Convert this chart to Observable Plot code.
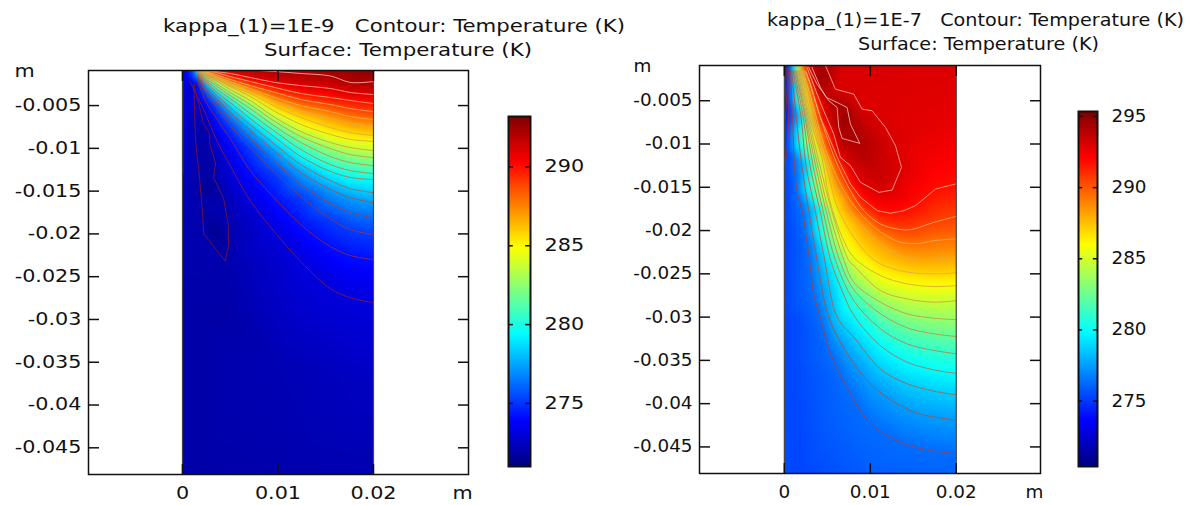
<!DOCTYPE html>
<html><head><meta charset="utf-8">
<script src="https://cdn.jsdelivr.net/npm/d3@7"></script>
<script src="https://cdn.jsdelivr.net/npm/@observablehq/plot@0.6"></script>
<style>
html,body{margin:0;padding:0;background:#fff;width:1192px;height:505px;overflow:hidden;font-family:"DejaVu Sans",sans-serif}
.abs{position:absolute}
.abs svg{overflow:visible;background:transparent}
.t{position:absolute;white-space:pre;color:#111;font-size:17px;line-height:20px;transform-origin:left center}
</style></head><body>
<div id="root"></div>
<script>
// ---------- tick values (metres, kelvin) ----------
const yTicks = [-0.005,-0.01,-0.015,-0.02,-0.025,-0.03,-0.035,-0.04,-0.045];
const xTicks = [0,0.01,0.02];
const leftBarTicks = [275,280,285,290];
const rightBarTicks = [275,280,285,290,295];
const leftRange = [271.0,293.2];
const rightRange = [270.4,295.35];
const jetStops = [0,0.13,0.38,0.626,0.87,1];
const jetColors = ["#00007f","#0000ff","#00ffff","#ffff00","#ff0000","#7f0000"];

// ---------- left panel: isotherms (x and depth in mm) ----------
const leftXmm = [20,17.6,15.5,12.4,9.7,7.1,5.0,3.5,2.4,1.6];
const leftLevels = [292.1,291.1,290.0,289.0,287.9,286.9,285.8,284.7,283.7,282.6,281.6,280.5,279.5,278.4,277.3,276.3,275.2,274.2,273.1];
const leftDepths = [
 [2.19,2.30,1.54,1.25,1.02,0.84,0.70,0.60,0.50,0.40],
 [3.71,3.47,3.01,2.66,2.30,1.72,1.25,1.02,0.90,0.78],
 [4.76,4.41,4.06,3.59,2.89,2.19,1.60,1.13,0.90,0.67],
 [5.70,5.35,4.88,4.29,3.47,2.66,1.95,1.37,1.02,0.72],
 [6.63,6.28,5.70,5.00,4.06,3.01,2.19,1.60,1.02,0.78],
 [7.45,7.10,6.52,5.58,4.53,3.36,2.42,1.72,1.13,0.78],
 [8.51,8.16,7.57,6.40,5.11,3.59,2.66,1.84,1.25,0.84],
 [9.20,8.95,8.38,7.20,5.70,3.94,2.77,1.84,1.37,0.90],
 [10.26,9.91,9.32,8.04,6.40,4.41,3.12,2.07,1.49,0.90],
 [11.08,10.73,10.03,8.62,6.87,4.88,3.47,2.42,1.60,1.02],
 [12.02,11.66,10.96,9.32,7.45,5.35,3.83,2.66,1.84,1.02],
 [12.95,12.60,11.90,10.14,8.04,5.93,4.18,3.01,1.95,1.13],
 [13.65,13.40,12.70,10.96,8.74,6.52,4.64,3.36,2.19,1.25],
 [15.18,14.71,13.77,11.90,9.56,7.22,5.23,3.71,2.54,1.37],
 [16.35,15.76,14.82,12.83,10.38,7.92,5.81,4.06,2.77,1.49],
 [18.10,17.52,16.46,14.24,11.55,8.86,6.52,4.53,3.12,1.60],
 [20.09,19.50,18.22,15.64,12.83,9.91,7.34,5.11,3.47,1.84],
 [23.00,22.53,21.49,18.92,15.88,12.60,8.86,6.40,4.41,2.07],
 [28.04,27.46,26.41,23.25,19.85,16.11,12.02,8.86,5.93,4.06]
];
const leftBlobLevel = 272.06;
const leftBlob = [[1.19,2.46],[1.36,9.09],[1.71,12.6],[2.06,16.9],[2.23,20.0],[4.29,22.9],[4.50,23.2],[4.68,22.0],[4.85,21.6],[4.78,18.8],[4.30,15.8],[3.25,13.4],[3.46,11.8],[2.86,9.45],[2.86,8.3],[2.2,7.1],[1.88,5.6],[1.19,2.46]];
const leftEdgeLevel = 272.9;
const leftEdge = [[0.05,2.0],[0.05,6],[0.05,10],[0.05,13]];
const leftAnchors = [[0,0,273.6],[1,0.4,274.5],[2.5,0.3,291.5],[5,0.2,292.3],[12,0,293],[20,0,293.3],[20,1,293],
 [0,5,272.9],[0,10,272.7],[0,15,272.3],[0,20,272.1],[0,30,271.9],[0,48.5,271.9],[10,48.5,272.0],[20,48.5,272.1],
 [20,38,272.5],[10,35,272.2],[5,30,271.9],[2.5,8,271.7],[3,14,271.4],[3.5,20,271.3],[2,12,271.8],[0.8,2.2,273.1],[0.6,6,272.7]];

// ---------- right panel: isotherms as [x, depth] in mm ----------
const rightLevels = [275.2,274,272.8,271.6,276.3,277.5,278.7,279.9,281.1,282.3,283.5,284.7,285.9,287,288.2,289.4,290.6,291.8,293,294.2];
const rightLines = [
 [[0.55,1.16],[0.55,3.09],[0.5,6.93],[0.31,10.78],[0,12.85]],
 [[0.4,1.16],[0.38,2.5],[0.25,5],[0.05,8]],
 [[0.25,1.16],[0.2,2.5],[0.05,5]],
 [[0.1,1.16],[0.05,2.5]],
 [[0.7,1.55],[0.95,6.93],[1.17,12.32],[1.48,15.4],[2.17,18.1],[2.45,20],[2.95,23.47],[3.42,27.3],[4.19,30],[5.36,34.2],[7.3,38.1],[10,42.3],[13.9,44.6],[17,45.4],[20,45.8]],
 [[0.85,1.55],[1.4,6.93],[2.0,12.32],[2.85,17.7],[3.81,23.47],[5.17,30],[7.3,34.2],[10,37.7],[13.1,40],[15.8,41.2],[20,41.9]],
 [[1.0,1.55],[1.95,6.93],[2.5,12.32],[3.6,17.7],[4.7,23.47],[6.14,30],[8.08,32.3],[11.18,36],[14.29,37.7],[17.4,38.55],[20,39]],
 [[1.15,1.55],[2.2,6.93],[2.95,12.32],[4.15,17.7],[5.4,23.47],[6.7,26.9],[8.08,29.8],[11.18,33.3],[14.29,35.2],[17.4,36.1],[20,36.5]],
 [[1.3,1.55],[2.4,6.93],[3.3,12.32],[4.5,17.7],[5.95,23.47],[8.08,28.1],[11.18,31.35],[14.29,33.1],[17.4,33.85],[20,34.24]],
 [[1.42,1.55],[2.5,6.93],[3.6,12.32],[4.85,17.7],[6.45,23.47],[8.08,26.85],[11.18,29.6],[14.29,31.24],[17.4,31.93],[20,32.24]],
 [[1.55,1.55],[2.65,6.93],[3.85,12.32],[5.15,17.7],[6.95,23.47],[8.08,25.97],[11.18,28.28],[14.29,29.62],[17.4,30.12],[20,30.3]],
 [[1.68,1.55],[2.8,6.93],[4.1,12.32],[5.5,17.7],[7.5,23.47],[8.08,24.05],[11.18,26.93],[14.29,27.9],[17.4,28.28],[20,28.1]],
 [[1.8,1.55],[2.95,6.93],[4.35,11.55],[5.3,16.55],[6.75,20.8],[8.08,23.1],[11.18,25.2],[14.29,26.16],[17.4,26.47],[20,26.36]],
 [[1.94,1.55],[3.15,6.93],[4.7,11.93],[6.33,17.7],[9.24,22.3],[11.18,23.86],[14.29,24.8],[17.4,25],[20,24.9]],
 [[2.05,1.55],[2.83,3.86],[4,8.86],[5.36,13.1],[6.91,16.55],[8.85,19.24],[10.8,21.16],[13.13,22.7],[15.26,23.3],[17.4,23.3],[20,23.1]],
 [[2.2,1.55],[3.42,5.78],[4.58,10],[6.14,13.85],[7.69,16.55],[9.63,18.86],[11.57,20.4],[13.51,21.36],[15.84,21.47],[17.4,21.16],[20,20.97]],
 [[2.35,1.55],[2.83,2.6],[3.81,5.78],[4.97,9.24],[6.14,12.32],[7.69,15.4],[9.24,17.7],[11.18,19.24],[13.13,19.82],[14.68,19.9],[17.4,19.05],[20,18.36]],
 [[2.5,1.55],[3.03,3.09],[4.19,6.93],[5.36,9.62],[6.33,11.93],[7.69,14.62],[8.85,16.16],[10.8,17.7],[12.35,18],[13.9,17.7],[15.26,17.12],[17.6,15.2],[20,14.6]],
 [[2.64,1.16],[3.81,4.24],[4.58,6.16],[5.75,8.86],[6.52,11.55],[7.69,12.5],[8.85,14.43],[10.99,15.59],[12.54,15.32],[13.63,12.7],[12.93,10.2],[11.77,8.09],[10.21,6.16],[9.05,5.97],[8.08,4.24],[5.94,3.66],[4.78,0.93]],
 [[3.22,1.16],[4.19,3.47],[4.89,4.62],[6.14,5.2],[7.3,5.78],[7.69,7.7],[8.78,9.93],[6.72,9.35],[6.33,8.09],[6.14,5.78],[5.17,5.0],[3.81,3.09],[2.83,1.16]]
];
const rightAnchors = [[0,0,271.3],[0,3,272],[0,6,272.8],[0,10,274],[0,14,275.1],[0,20,275.2],[0,30,275.3],[0,48.5,275.5],
 [1,35,275.4],[2,48.5,275.3],[1.5,30,275.5],[10,48.5,275.9],[20,48.5,276.1],[20,47,276.1],
 [7.5,7.5,294.9],[9,11.5,294],[10.5,13,293.6],[5,2,294.5],[4,1,294.6],[6.5,0,293.1],[20,0,293.0],[12,3,293.0],[16,8,292.8],[20,8,292.6],[16,12,292.4]];

// ---------- helpers ----------
const lineColor = d3.scaleLinear().domain([0,0.25,0.5,0.75,0.9,1])
  .range(["#7a0a2e","#b53c3a","#cf8a3c","#e6b24e","#ffb49a","#ecd2d2"]);
const toM = ([x,d]) => ({x:x/1000, y:-d/1000});
const colorOf = r => ({type:"linear",interpolate:"rgb",
  domain:jetStops.map(f=>r[0]+f*(r[1]-r[0])),range:jetColors,clamp:true});
const fontSize = 17;

function panel({left,width,x,y,mL,mR,mT,mB,lines,points,range,blur}){
  return Plot.plot({
    width,height:505,marginLeft:mL,marginRight:mR,marginTop:mT,marginBottom:mB,
    style:{fontFamily:"DejaVu Sans",fontSize:fontSize+"px",color:"#111",background:"transparent"},
    x:{domain:x,label:null},y:{domain:y,label:null},color:colorOf(range),
    marks:[
      Plot.raster(points,{x:"x",y:"y",fill:"T",interpolate:"barycentric",pixelSize:1,blur,
        x1:0,x2:0.02,y1:y[1],y2:y[0],imageRendering:"auto"}),
      ...lines.map(l=>Plot.line(l.pts,{x:"x",y:"y",clip:true,strokeWidth:0.8,
        curve:l.angular?"linear":"catmull-rom",
        stroke:lineColor((l.T-range[0])/(range[1]-range[0]))})),
      Plot.ruleX([0,0.02],{stroke:"#444",strokeWidth:1.2}),
      Plot.frame({stroke:"#111",strokeWidth:1.5}),
      Plot.axisY(yTicks,{anchor:"left",tickSize:-11,tickPadding:18,tickFormat:d=>String(d),strokeWidth:1.5,label:null}),
      Plot.axisY(yTicks,{anchor:"right",tickSize:-11,tickFormat:()=>"",strokeWidth:1.5,label:null}),
      Plot.axisX(xTicks,{anchor:"bottom",tickSize:-10,tickPadding:22,tickFormat:d=>String(d),strokeWidth:1.5,label:null}),
      Plot.axisX(xTicks,{anchor:"top",tickSize:-10,tickFormat:()=>"",strokeWidth:1.5,label:null}),
      Plot.text(["m"],{frameAnchor:"top-left",textAnchor:"start",lineAnchor:"middle",dx:-(mL-(left===0?14:13)),dy:1}),
      Plot.text(["m"],{frameAnchor:"bottom-right",textAnchor:"middle",lineAnchor:"middle",dx:-6,dy:19})
    ]
  });
}

function bar({width,mL,mR,mT,mB,range,ticks}){
  return Plot.plot({
    width,height:505,marginLeft:mL,marginRight:mR,marginTop:mT,marginBottom:mB,
    style:{fontFamily:"DejaVu Sans",fontSize:fontSize+"px",color:"#111",background:"transparent"},
    x:{domain:[0,1],axis:null},y:{domain:range,axis:null},color:colorOf(range),
    marks:[
      Plot.raster({fill:(x,y)=>y,x1:0,x2:1,y1:range[0],y2:range[1],pixelSize:1}),
      Plot.frame({stroke:"#111",strokeWidth:2}),
      Plot.ruleY(ticks,{x1:0,x2:0.22,stroke:"#111",strokeWidth:1.5}),
      Plot.ruleY(ticks,{x1:0.78,x2:1,stroke:"#111",strokeWidth:1.5}),
      Plot.axisY(ticks,{anchor:"right",tickSize:0,tickPadding:14,tickFormat:d=>String(d),label:null})
    ]
  });
}

function place(svg,left,stretch){
  const d=document.createElement("div");d.className="abs";d.style.left=left+"px";d.style.top="0";
  d.appendChild(svg);document.getElementById("root").appendChild(d);
  svg.querySelectorAll("text").forEach(t=>{
    const n=t.getComputedTextLength();
    if(n>0){t.setAttribute("textLength",n*stretch);t.setAttribute("lengthAdjust","spacingAndGlyphs");}
  });
}
function title(s,left,top,w){
  const d=document.createElement("div");d.className="t";d.textContent=s;
  d.style.left=left+"px";d.style.top=top+"px";
  document.getElementById("root").appendChild(d);
  d.style.transform=`scaleX(${w/d.getBoundingClientRect().width})`;
}

// ---------- assemble data ----------
const leftLinesData = leftLevels.map((T,i)=>({T,pts:leftXmm.map((x,j)=>toM([x,leftDepths[i][j]]))}));
leftLinesData[leftLinesData.length-1].pts.push(toM([0.8,2.2]));
leftLinesData.push({T:leftBlobLevel,angular:true,pts:leftBlob.map(toM)});
const leftDraw = leftLinesData.concat([{T:leftEdgeLevel,pts:leftEdge.map(toM)}]);
const leftPoints = leftLinesData.flatMap(l=>l.pts.map(p=>({...p,T:l.T})))
  .concat(leftAnchors.map(([x,d,T])=>({...toM([x,d]),T})));
const rightDraw = rightLevels.map((T,i)=>({T,angular:T>=291,pts:rightLines[i].map(toM)}));
const rightPoints = rightDraw.flatMap(l=>l.pts.map(p=>({...p,T:l.T})))
  .concat(rightAnchors.map(([x,d,T])=>({...toM([x,d]),T})));

place(panel({left:0,width:480,x:[-0.00984,0.02995],y:[-0.04812,-0.0009],mL:88,mR:12,mT:70,mB:31,
  lines:leftDraw,points:leftPoints,range:leftRange,blur:3}),0,1.22);
place(bar({width:120,mL:28,mR:70,mT:116,mB:39,range:leftRange,ticks:leftBarTicks}),480,1.22);
place(panel({left:620,width:430,x:[-0.00987,0.0298],y:[-0.04807,-0.00093],mL:79,mR:10,mT:65,mB:32,
  lines:rightDraw,points:rightPoints,range:rightRange,blur:3}),620,1.08);
place(bar({width:112,mL:18,mR:75,mT:111,mB:39,range:rightRange,ticks:rightBarTicks}),1060,1.08);

title("kappa_(1)=1E-9   Contour: Temperature (K)",163,16,462);
title("Surface: Temperature (K)",264,40,268);
title("kappa_(1)=1E-7   Contour: Temperature (K)",767,10,417);
title("Surface: Temperature (K)",858,34,241);
</script>
</body></html>
